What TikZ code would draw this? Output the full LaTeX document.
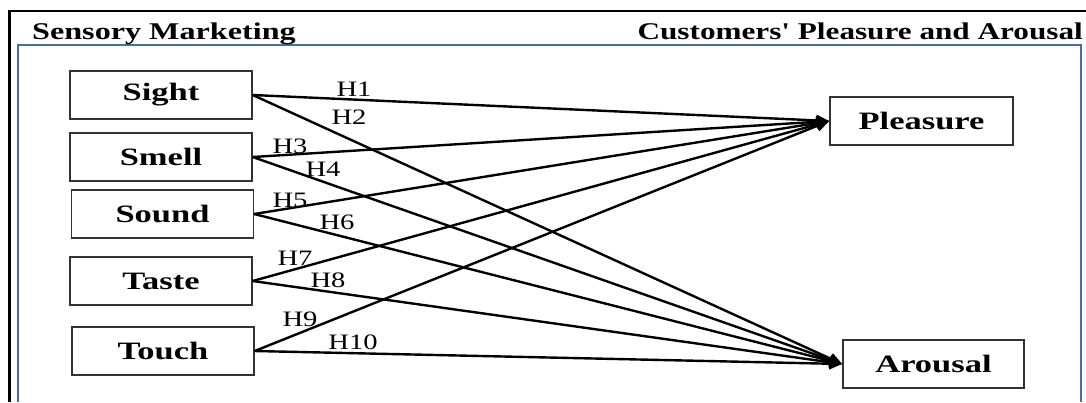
\documentclass[tikz,border=0pt]{standalone}
\usepackage{fontspec}
\usepackage{graphicx}
\setmainfont{Liberation Serif}
% same family without TeX ligature mapping, so ' stays a straight apostrophe
\newfontfamily\plainserif{Liberation Serif}
\usetikzlibrary{arrows.meta}
\definecolor{frameblue}{RGB}{72,108,180}
\definecolor{boxgray}{RGB}{50,50,50}
\newcommand{\widetext}[2]{\scalebox{#1}[1]{#2}}
\begin{document}
\begin{tikzpicture}[x=1pt,y=-1pt,
  construct/.style={draw=boxgray, line width=1.4pt, minimum width=182pt, minimum height=48pt,
    inner sep=0pt, font=\fontsize{25}{28}\selectfont\bfseries},
  hyplabel/.style={inner sep=0pt, font=\fontsize{22}{24}\selectfont},
  titletext/.style={inner sep=0pt, font=\fontsize{24}{26}\selectfont\bfseries},
  path link/.style={line width=2.4pt, -{Triangle[length=13pt,width=11pt]}}]
  \useasboundingbox (0,0) rectangle (1086,402);

  % outer frame and inner panel
  \draw[line width=2.6pt] (9.7,402) -- (9.7,11) -- (1086,11);
  \draw[frameblue, line width=1.5pt] (17.8,402) -- (17.8,45) -- (1081,45) -- (1081,402);

  % group headings
  \node[titletext, anchor=base west] (tleft) at (32,39) {\widetext{1.34}{Sensory Marketing}};
  \node[titletext, anchor=base east, font=\fontsize{24}{26}\plainserif\bfseries] (tright) at (1083,39)
    {\widetext{1.30}{Customers' Pleasure and Arousal}};

  % sensory constructs
  \node[construct] (sight) at (161,95)  {\widetext{1.38}{Sight}};
  \node[construct] (smell) at (161,157) {\widetext{1.38}{Smell}};
  \node[construct] (sound) at (162.5,214) {\widetext{1.38}{Sound}};
  \node[construct] (taste) at (161,281) {\widetext{1.38}{Taste}};
  \node[construct] (touch) at (163,351) {\widetext{1.38}{Touch}};

  % outcome constructs
  \node[construct, minimum width=183pt] (pleasure) at (921.5,121) {\widetext{1.38}{Pleasure}};
  \node[construct, minimum width=181pt] (arousal) at (933.5,364) {\widetext{1.38}{Arousal}};

  % hypothesised paths
  \draw[path link] (sight.east) -- (pleasure.west);
  \draw[path link] (sight.east) -- (arousal.west);
  \draw[path link] (smell.east) -- (pleasure.west);
  \draw[path link] (smell.east) -- (arousal.west);
  \draw[path link] (sound.east) -- (pleasure.west);
  \draw[path link] (sound.east) -- (arousal.west);
  \draw[path link] (taste.east) -- (pleasure.west);
  \draw[path link] (taste.east) -- (arousal.west);
  \draw[path link] (touch.east) -- (pleasure.west);
  \draw[path link] (touch.east) -- (arousal.west);

  % hypothesis labels
  \node[hyplabel] (h1)  at (354,89)  {\widetext{1.3}{H1}};
  \node[hyplabel] (h2)  at (349,117) {\widetext{1.3}{H2}};
  \node[hyplabel] (h3)  at (290,146) {\widetext{1.3}{H3}};
  \node[hyplabel] (h4)  at (323,169) {\widetext{1.3}{H4}};
  \node[hyplabel] (h5)  at (290,200) {\widetext{1.3}{H5}};
  \node[hyplabel] (h6)  at (337,222) {\widetext{1.3}{H6}};
  \node[hyplabel] (h7)  at (295,258) {\widetext{1.3}{H7}};
  \node[hyplabel] (h8)  at (328,280) {\widetext{1.3}{H8}};
  \node[hyplabel] (h9)  at (300,319) {\widetext{1.3}{H9}};
  \node[hyplabel] (h10) at (353,342) {\widetext{1.3}{H10}};
\end{tikzpicture}
\end{document}
